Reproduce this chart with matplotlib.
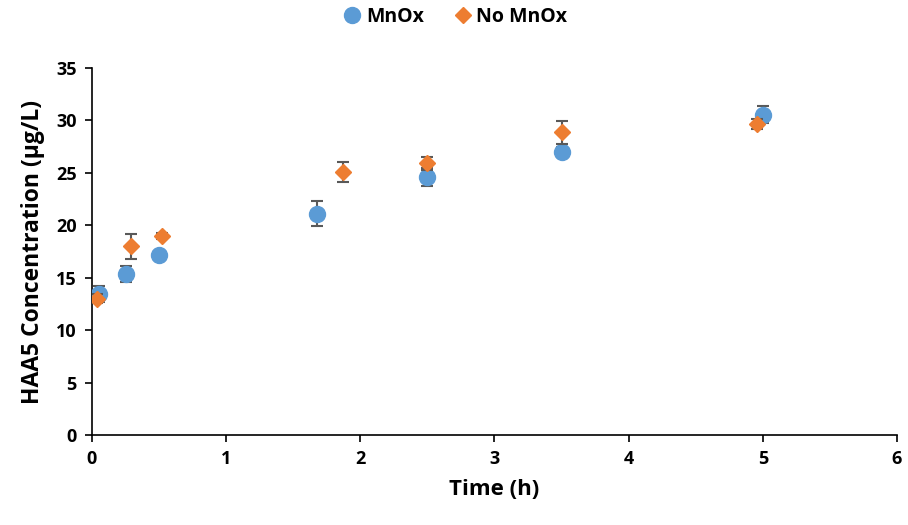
import matplotlib
matplotlib.use("Agg")
import matplotlib.pyplot as plt

plt.rcParams['font.family'] = ['Open Sans', 'DejaVu Sans']

mnox_t = [0.05, 0.25, 0.5, 1.68, 2.5, 3.5, 5.0]
mnox_c = [13.45, 15.35, 17.2, 21.1, 24.6, 27.0, 30.55]
mnox_err = [0.8, 0.75, 0.3, 1.2, 0.85, 0.5, 0.8]

nomnox_t = [0.04, 0.29, 0.52, 1.87, 2.5, 3.5, 4.96]
nomnox_c = [13.0, 18.0, 19.0, 25.1, 25.9, 28.85, 29.65]
nomnox_err = [0.4, 1.2, 0.3, 0.95, 0.6, 1.1, 0.5]

fig = plt.figure(figsize=(9.08, 5.25), dpi=100)
ax = fig.add_axes([0.1013, 0.1714, 0.8866, 0.6991])

ax.errorbar(mnox_t, mnox_c, yerr=mnox_err, fmt='o', color='#5B9BD5', ms=11.5,
            ecolor='#595959', elinewidth=1.5, capsize=4.5, capthick=1.5, label='MnOx', zorder=3)
ax.errorbar(nomnox_t, nomnox_c, yerr=nomnox_err, fmt='D', color='#ED7D31', ms=8.5,
            ecolor='#595959', elinewidth=1.5, capsize=4.5, capthick=1.5, label='No MnOx', zorder=4)

ax.set_xlim(0, 6)
ax.set_ylim(0, 35)
ax.set_xticks(range(0, 7))
ax.set_yticks(range(0, 36, 5))
for s in ['top', 'right']:
    ax.spines[s].set_visible(False)
for s in ['left', 'bottom']:
    ax.spines[s].set_linewidth(1.2)
    ax.spines[s].set_color('black')
ax.tick_params(direction='out', length=5, width=1.2, labelsize=13, pad=6)
for lbl in ax.get_xticklabels() + ax.get_yticklabels():
    lbl.set_fontweight('bold')

ax.set_xlabel('Time (h)', fontsize=16, fontweight='bold', labelpad=8)
ax.set_ylabel('HAA5 Concentration (µg/L)', fontsize=16.5, fontweight='bold', labelpad=8)

h, l = ax.get_legend_handles_labels()
h = [x[0] for x in h]
leg = fig.legend(h, l, loc='upper center', bbox_to_anchor=(0.5, 1.02), ncol=2, frameon=False,
                 prop={'size': 14, 'weight': 'bold'}, handletextpad=0.1, columnspacing=1.4,
                 handlelength=1.2)

fig.savefig('out.png', dpi=100)
